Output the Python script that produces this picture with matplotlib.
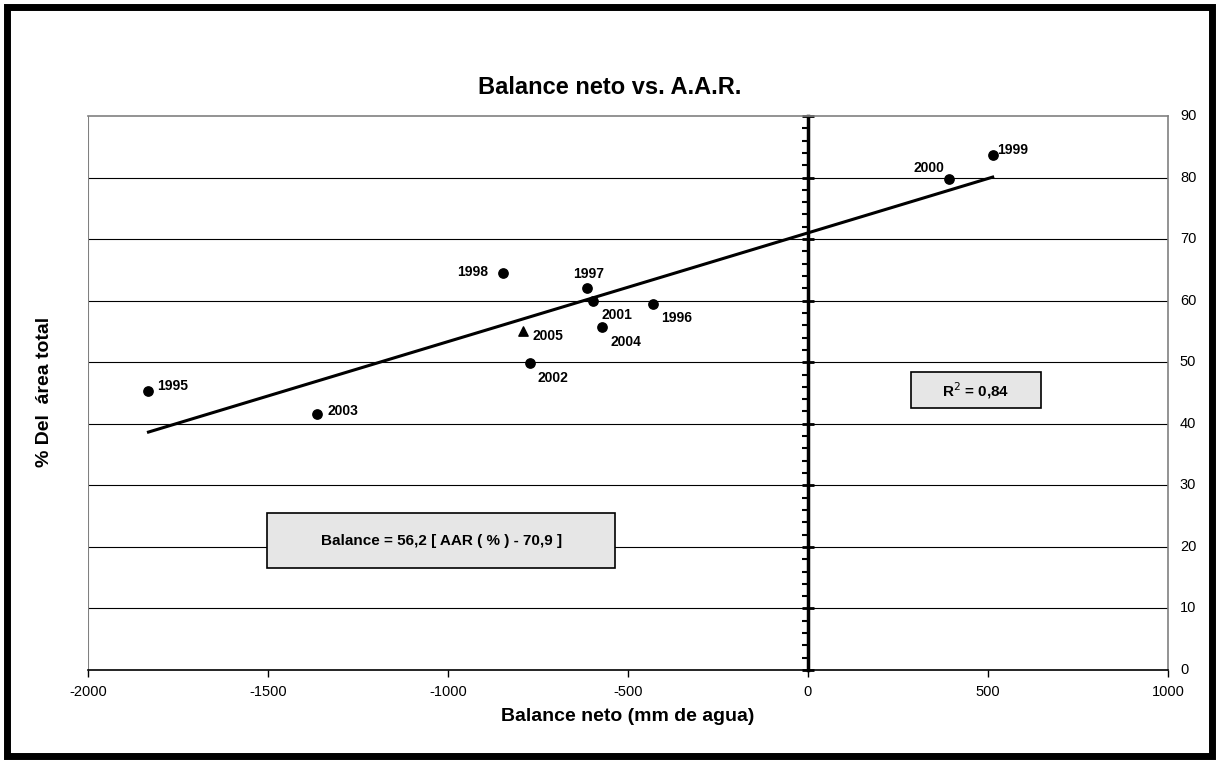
import matplotlib.pyplot as plt
from matplotlib.patches import Rectangle
from matplotlib.ticker import MultipleLocator
import numpy as np

plt.rcParams['font.family'] = ['Liberation Sans', 'DejaVu Sans']
plt.rcParams['axes.unicode_minus'] = False

# datos
anios = ['1995', '1996', '1997', '1998', '1999', '2000', '2001', '2002', '2003', '2004']
balance = [-1832, -430, -613, -848, 513, 392, -598, -771, -1363, -572]
aar = [45.3, 59.5, 62.1, 64.5, 83.6, 79.8, 59.9, 49.9, 41.6, 55.8]

# 2005 va con triangulo
anio_2005 = '2005'
balance_2005 = [-791]
aar_2005 = [55.0]

# desplazamiento de las etiquetas (puntos)
offsets = {'1995': (6, 4), '1996': (6, -10), '1997': (-10, 10), '1998': (-33, 1),
           '1999': (3, 4), '2000': (-26, 8), '2001': (6, -10), '2002': (5, -11),
           '2003': (7, 2), '2004': (6, -11)}

fig = plt.figure(figsize=(12.19, 7.6), dpi=100)
ax = fig.add_axes([88/1219, 1 - 670/760, (1168 - 88)/1219, (670 - 116)/760])

ax.set_xlim(-2000, 1000)
ax.set_ylim(0, 90)

# lineas horizontales
for yv in range(10, 90, 10):
    ax.axhline(yv, color='black', lw=0.8, zorder=1)

# linea de tendencia
p = np.polyfit(balance, aar, 1)
xs = np.array([min(balance), max(balance)])
ax.plot(xs, np.polyval(p, xs), color='black', lw=2.2, zorder=3)

ax.scatter(balance, aar, s=45, color='black', zorder=4)
ax.scatter(balance_2005, aar_2005, s=45, marker='^', color='black', zorder=4)

for a, bx, ay in zip(anios, balance, aar):
    dx, dy = offsets[a]
    ax.annotate(a, (bx, ay), xytext=(dx, dy), textcoords='offset points',
                fontsize=10, fontweight='bold', va='center', ha='left')
ax.annotate(anio_2005, (balance_2005[0], aar_2005[0]), xytext=(7, -3),
            textcoords='offset points', fontsize=10, fontweight='bold',
            va='center', ha='left')

# cuadros de texto
ax.add_patch(Rectangle((-1502, 16.6), 967, 8.9, fc='#e6e6e6', ec='black', lw=1.2, zorder=5))
ax.text(-1018, 21.0, 'Balance = 56,2 [ AAR ( % ) - 70,9 ]', ha='center', va='center',
        fontsize=11, fontweight='bold', zorder=6)
ax.add_patch(Rectangle((287, 42.5), 361, 5.9, fc='#e6e6e6', ec='black', lw=1.2, zorder=5))
ax.text(467, 45.4, 'R$^2$ = 0,84', ha='center', va='center',
        fontsize=11, fontweight='bold', zorder=6)

# eje vertical en x = 0
ax.spines['left'].set_position(('data', 0))
ax.spines['left'].set_linewidth(2.5)
ax.spines['left'].set_zorder(2)
ax.yaxis.set_major_locator(MultipleLocator(10))
ax.yaxis.set_minor_locator(MultipleLocator(2))
ax.tick_params(axis='y', which='major', left=True, right=False, direction='inout',
               length=9, width=2, labelleft=False, labelright=False)
ax.tick_params(axis='y', which='minor', left=True, right=False, direction='out',
               length=4, width=1.5)

for s in ['top', 'right']:
    ax.spines[s].set_color('#808080')
    ax.spines[s].set_linewidth(1.2)
ax.axvline(-2000, color='#808080', lw=1.5, zorder=1)
ax.spines['bottom'].set_linewidth(1.2)

# etiquetas del eje derecho
for yv in range(0, 100, 10):
    ax.text(1.011, yv / 90, str(yv), transform=ax.transAxes, ha='left', va='center', fontsize=10.5)

ax.xaxis.set_major_locator(MultipleLocator(500))
ax.tick_params(axis='x', direction='out', length=5, width=1, labelsize=10.5, pad=6)

ax.set_xlabel('Balance neto (mm de agua)', fontsize=14, fontweight='bold', labelpad=6)
fig.text(45/1219, 1 - 392/760, '% Del  área total', rotation=90, ha='center', va='center',
         fontsize=14, fontweight='bold')
fig.text(0.5, 1 - 88/760, 'Balance neto vs. A.A.R.', ha='center', va='center',
         fontsize=17, fontweight='bold')

# marco exterior
fig.patches.append(Rectangle((7/1219, 4/760), 1 - 14/1219, 1 - 11/760, transform=fig.transFigure,
                             fill=False, ec='black', lw=5))

fig.savefig('out.png', dpi=100)
